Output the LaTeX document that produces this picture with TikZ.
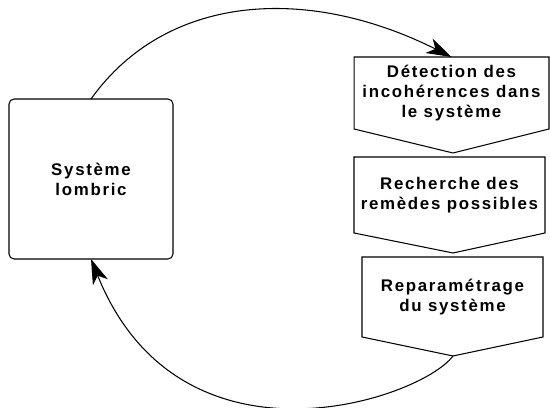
\documentclass[tikz,border=0pt]{standalone}
\usepackage{fontspec}
\setmainfont{Liberation Sans}
\newfontfamily\etiq[LetterSpace=10]{Liberation Sans}
\usetikzlibrary{arrows.meta,calc,positioning}

\tikzset{
  texte/.style={font=\etiq\fontsize{9.6}{11.3}\selectfont\bfseries, align=center,
    inner sep=0pt, outer sep=0pt},
  cadre/.style={line width=0.6pt, line join=miter},
  fleche/.style={line width=0.6pt, -{Stealth[length=0.5cm,width=0.32cm,inset=0.14cm]}},
}

\begin{document}
\begin{tikzpicture}[x=0.02cm,y=0.02cm, line cap=round]
\useasboundingbox (0,0) rectangle (550,408);
% systeme
\node[texte, draw, cadre, rounded corners=0.1cm, minimum width=3.28cm, minimum height=3.2cm] (sys) at (91,229) {Système\\lombric};
% les trois etapes
\node[texte, minimum width=3.9cm, minimum height=1.44cm] (det) at (451.5,315) {Détection des\\incohérences dans\\le système};
\node[texte, minimum width=3.82cm, minimum height=1.52cm] (rech) at (449.5,213) {Recherche des\\remèdes possibles};
\node[texte, minimum width=3.62cm, minimum height=1.6cm] (rep) at (452.5,111) {Reparamétrage\\du système};
\coordinate (tdet) at (453,255);
\coordinate (trech) at (453,155);
\coordinate (trep) at (453,52);
\draw[cadre] (det.north west) -- (det.north east) -- (det.south east) -- (tdet) -- (det.south west) -- cycle;
\draw[cadre] (rech.north west) -- (rech.north east) -- (rech.south east) -- (trech) -- (rech.south west) -- cycle;
\draw[cadre] (rep.north west) -- (rep.north east) -- (rep.south east) -- (trep) -- (rep.south west) -- cycle;
% boucle
\draw[fleche] (sys.north) .. controls +(75,105) and +(-145,72.5) .. (det.north);
\draw[fleche] (trep) .. controls +(-33,-44) and +(89,-221) .. (sys.south);
\end{tikzpicture}
\end{document}
